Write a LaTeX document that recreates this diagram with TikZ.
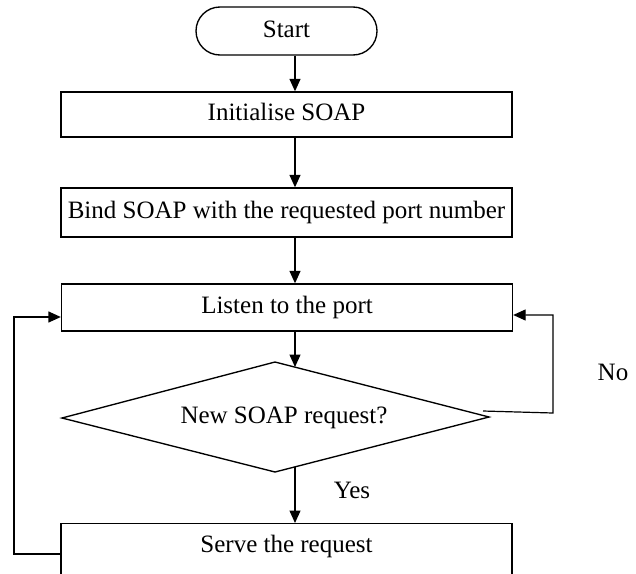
\documentclass[tikz,border=0pt]{standalone}
\usepackage{fontspec}
\setmainfont{Liberation Serif}
\usetikzlibrary{arrows.meta,calc}
\begin{document}
\begin{tikzpicture}[x=1pt,y=-1pt,
  line width=1.35pt,
  font=\fontsize{25}{30}\selectfont,
  box/.style={draw,minimum width=451pt,inner sep=0pt,text height=17.5pt,text depth=5pt},
  arr/.style={-{Triangle[length=12.5pt,width=11pt]}}]
\useasboundingbox (0,0) rectangle (636,573);
\clip (0,0) rectangle (636,573);
% nodes
\node[draw,rounded corners=24pt,minimum width=181pt,minimum height=48pt,inner sep=0pt,text height=17.5pt,text depth=5pt] (start) at (286.5,31) {Start};
\node[box,minimum height=45pt] (init) at (286.5,114.5) {Initialise SOAP};
\node[box,minimum height=49pt] (bind) at (286.5,212.5) {Bind SOAP with the requested port number};
\node[box,minimum height=47pt] (listen) at (287,307.5) {Listen to the port};
\node[box,anchor=north,text height=29pt,text depth=45pt] (serve) at (286.5,523) {Serve the request};
% decision
\coordinate (dT) at (275,362);
\coordinate (dR) at (489,417);
\coordinate (dB) at (275,472);
\coordinate (dL) at (62,418);
\draw (dT) -- (dR) -- (dB) -- (dL) -- cycle;
\node (q) at (284,418) {New SOAP request?};
\node (yes) at (352,490) {Yes};
\node (no) at (613,372) {No};
% connectors
\coordinate (ax) at (295,0);
\coordinate (dTin) at (295,367);
\coordinate (dBout) at (295,467);
\draw[arr] (start.south -| ax) -- (init.north -| ax);
\draw[arr] (init.south -| ax) -- (bind.north -| ax);
\draw[arr] (bind.south -| ax) -- (listen.north -| ax);
\draw[arr] (listen.south -| ax) -- (dTin);
\draw[arr] (dBout) -- (serve.north -| ax);
\coordinate (n1) at (483,411);
\coordinate (n2) at (553,413);
\coordinate (n3) at (553,315);
\draw[arr,line width=1.2pt] (n1) -- (n2) -- (n3) -- (n3 -| listen.east);
\coordinate (l1) at (14,554);
\coordinate (l2) at (14,317);
\draw[arr] (serve.west |- l1) -- (l1) -- (l2) -- (listen.west |- l2);
\end{tikzpicture}
\end{document}
